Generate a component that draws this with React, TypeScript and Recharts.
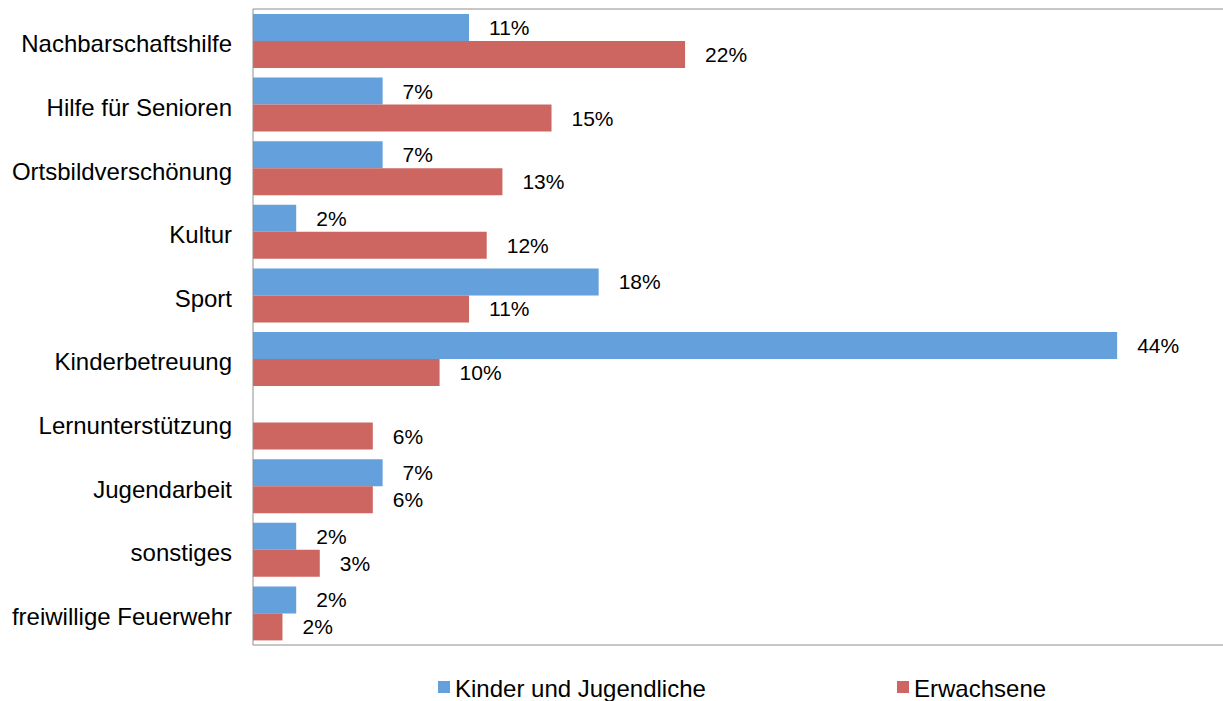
import React from 'react';
import { BarChart, Bar, XAxis, YAxis, Legend, LabelList } from 'recharts';

const categories = [
  'Nachbarschaftshilfe',
  'Hilfe für Senioren',
  'Ortsbildverschönung',
  'Kultur',
  'Sport',
  'Kinderbetreuung',
  'Lernunterstützung',
  'Jugendarbeit',
  'sonstiges',
  'freiwillige Feuerwehr',
];

const seriesNames = ['Kinder und Jugendliche', 'Erwachsene'];
const kinderJugendliche = [11.0, 6.6, 6.6, 2.2, 17.6, 44.0, 0, 6.6, 2.2, 2.2];
const erwachsene = [22.0, 15.2, 12.7, 11.9, 11.0, 9.5, 6.1, 6.1, 3.4, 1.5];

const data = categories.map((name, i) => ({
  name,
  kinder: kinderJugendliche[i],
  erwachsene: erwachsene[i],
}));

const FONT = '"Liberation Sans", Arial, sans-serif';
const BLUE = '#63A0DC';
const RED = '#CD6660';
const FRAME = '#8E8E8E';

const fmt = (v: any) => (v ? `${Math.round(Number(v))}%` : '');

// keep series order (Recharts sorts legend entries by name otherwise)
const renderLegend = (props: any) => {
  const payload = [...(props.payload || [])].sort(
    (a: any, b: any) => seriesNames.indexOf(a.value) - seriesNames.indexOf(b.value)
  );
  return (
    <div style={{ display: 'flex', fontFamily: FONT, fontSize: 24, lineHeight: '24px', color: '#000', whiteSpace: 'nowrap' }}>
      {payload.map((p: any, i: number) => (
        <div key={i} style={{ display: 'flex', alignItems: 'flex-start', width: i === 0 ? 459 : 'auto' }}>
          <span style={{ display: 'inline-block', width: 12, height: 12, background: p.color, marginTop: 4, marginRight: 5 }} />
          <span>{p.value}</span>
        </div>
      ))}
    </div>
  );
};

export default function App() {
  return (
    <div style={{ position: 'absolute', left: 0, top: 0, width: 1223, height: 701, overflow: 'hidden', background: '#fff' }}>
      <BarChart
        width={1260}
        height={701}
        data={data}
        layout="vertical"
        margin={{ top: 8, right: 25, bottom: 55, left: 0 }}
        barCategoryGap={5}
        barGap={0}
      >
        <XAxis type="number" domain={[0, 50]} tick={false} tickLine={false} height={1} axisLine={{ stroke: FRAME }} />
        <XAxis
          xAxisId="top"
          orientation="top"
          type="number"
          domain={[0, 50]}
          tick={false}
          tickLine={false}
          height={1}
          axisLine={{ stroke: FRAME }}
        />
        <YAxis
          type="category"
          dataKey="name"
          width={253}
          tickLine={false}
          tickMargin={15}
          axisLine={{ stroke: FRAME }}
          tick={{ fill: '#000', fontSize: 24, fontFamily: FONT, dy: 3 }}
        />
        <Legend
          layout="horizontal"
          verticalAlign="middle"
          align="center"
          wrapperStyle={{ left: 438, top: 677 }}
          content={renderLegend}
        />
        <Bar dataKey="kinder" name={seriesNames[0]} fill={BLUE} isAnimationActive={false}>
          <LabelList dataKey="kinder" position="right" offset={20} formatter={fmt} fill="#000" fontSize={21} fontFamily={FONT} />
        </Bar>
        <Bar dataKey="erwachsene" name={seriesNames[1]} fill={RED} isAnimationActive={false}>
          <LabelList dataKey="erwachsene" position="right" offset={20} formatter={fmt} fill="#000" fontSize={21} fontFamily={FONT} />
        </Bar>
      </BarChart>
    </div>
  );
}
